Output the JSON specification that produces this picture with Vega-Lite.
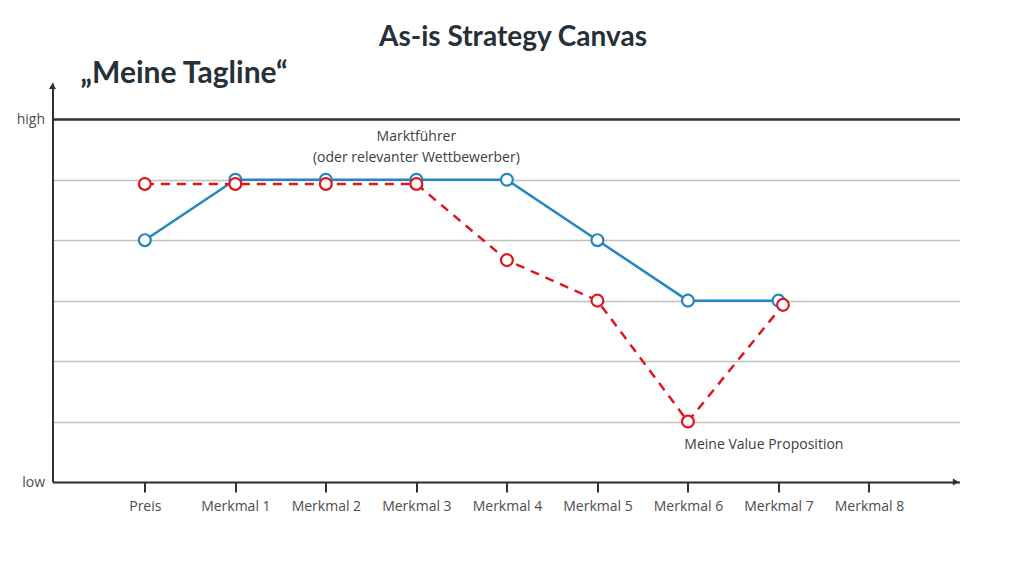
{
  "$schema": "https://vega.github.io/schema/vega-lite/v6.json",
  "autosize": "none",
  "width": 907,
  "height": 399,
  "padding": {"left": 52.5, "top": 83, "right": 64.5, "bottom": 94},
  "background": "white",
  "title": {
    "text": "As-is Strategy Canvas",
    "anchor": "middle",
    "frame": "group",
    "offset": 6,
    "dx": 7,
    "font": "Lato",
    "fontSize": 28,
    "fontWeight": "bold",
    "color": "#263038"
  },
  "config": {
    "view": {"stroke": null},
    "font": "Open Sans"
  },
  "datasets": {
    "werte": [
      {"merkmal": "Preis", "idx": 1, "series": "Marktführer", "wert": 4},
      {"merkmal": "Merkmal 1", "idx": 2, "series": "Marktführer", "wert": 5},
      {"merkmal": "Merkmal 2", "idx": 3, "series": "Marktführer", "wert": 5},
      {"merkmal": "Merkmal 3", "idx": 4, "series": "Marktführer", "wert": 5},
      {"merkmal": "Merkmal 4", "idx": 5, "series": "Marktführer", "wert": 5},
      {"merkmal": "Merkmal 5", "idx": 6, "series": "Marktführer", "wert": 4},
      {"merkmal": "Merkmal 6", "idx": 7, "series": "Marktführer", "wert": 3},
      {"merkmal": "Merkmal 7", "idx": 8, "series": "Marktführer", "wert": 3},
      {"merkmal": "Preis", "idx": 1, "series": "Meine", "wert": 4.93},
      {"merkmal": "Merkmal 1", "idx": 2, "series": "Meine", "wert": 4.93},
      {"merkmal": "Merkmal 2", "idx": 3, "series": "Meine", "wert": 4.93},
      {"merkmal": "Merkmal 3", "idx": 4, "series": "Meine", "wert": 4.93},
      {"merkmal": "Merkmal 4", "idx": 5, "series": "Meine", "wert": 3.67},
      {"merkmal": "Merkmal 5", "idx": 6, "series": "Meine", "wert": 3.0},
      {"merkmal": "Merkmal 6", "idx": 7, "series": "Meine", "wert": 1.0},
      {"merkmal": "Merkmal 7", "idx": 8.05, "series": "Meine", "wert": 2.93}
    ],
    "notizen": [
      {"idx": 4, "wert": 5.64, "text": "Marktführer", "align": "center"},
      {"idx": 4, "wert": 5.29, "text": "(oder relevanter Wettbewerber)", "align": "center"},
      {"idx": 6.96, "wert": 0.55, "text": "Meine Value Proposition", "align": "left"}
    ]
  },
  "resolve": {"scale": {"x": "shared", "y": "shared"}},
  "layer": [
    {
      "data": {"name": "werte"},
      "transform": [{"filter": "datum.series == 'Marktführer'"}],
      "mark": {"type": "line", "color": "#2386c0", "strokeWidth": 2.5},
      "encoding": {
        "x": {
          "field": "idx",
          "type": "quantitative",
          "scale": {"domain": [-0.02, 10], "nice": false, "zero": false},
          "axis": {
            "title": null,
            "values": [1, 2, 3, 4, 5, 6, 7, 8, 9],
            "labelExpr": "['Preis','Merkmal 1','Merkmal 2','Merkmal 3','Merkmal 4','Merkmal 5','Merkmal 6','Merkmal 7','Merkmal 8'][datum.value - 1]",
            "grid": false,
            "domainColor": "#2b3238",
            "domainWidth": 2,
            "tickColor": "#2b3238",
            "tickWidth": 2,
            "tickSize": 10,
            "labelPadding": 7,
            "labelFont": "Open Sans",
            "labelFontSize": 14,
            "labelColor": "#4d4d4d",
            "labelBaseline": "top"
          }
        },
        "y": {
          "field": "wert",
          "type": "quantitative",
          "scale": {"domain": [0, 6.6], "nice": false, "zero": false},
          "axis": {
            "title": "„Meine Tagline“",
            "titleAngle": 0,
            "titleAlign": "left",
            "titleBaseline": "alphabetic",
            "titleX": 27.5,
            "titleY": -1,
            "titleFont": "Lato",
            "titleFontSize": 30,
            "titleFontWeight": "bold",
            "titleColor": "#263038",
            "values": [0, 1, 2, 3, 4, 5, 6],
            "labelExpr": "datum.value == 6 ? 'high' : (datum.value == 0 ? 'low' : '')",
            "ticks": false,
            "labelPadding": 8,
            "labelFont": "Open Sans",
            "labelFontSize": 14,
            "labelColor": "#4d4d4d",
            "domainColor": "#2b3238",
            "domainWidth": 2,
            "grid": true,
            "gridColor": {"condition": {"test": "datum.value == 6", "value": "#2b3238"}, "value": "#c0c0c0"},
            "gridWidth": {"condition": {"test": "datum.value == 6", "value": 2.5}, "value": 1.5}
          }
        }
      }
    },
    {
      "data": {"name": "werte"},
      "transform": [{"filter": "datum.series == 'Marktführer'"}],
      "mark": {"type": "point", "shape": "circle", "filled": true, "fill": "white", "stroke": "#2386c0", "strokeWidth": 2.2, "size": 140, "opacity": 1},
      "encoding": {
        "x": {"field": "idx", "type": "quantitative"},
        "y": {"field": "wert", "type": "quantitative"}
      }
    },
    {
      "data": {"name": "werte"},
      "transform": [{"filter": "datum.series == 'Meine'"}],
      "mark": {"type": "line", "color": "#e0161e", "strokeWidth": 2.5, "strokeDash": [9, 7]},
      "encoding": {
        "x": {"field": "idx", "type": "quantitative"},
        "y": {"field": "wert", "type": "quantitative"}
      }
    },
    {
      "data": {"name": "werte"},
      "transform": [{"filter": "datum.series == 'Meine'"}],
      "mark": {"type": "point", "shape": "circle", "filled": true, "fill": "white", "stroke": "#e0161e", "strokeWidth": 2.2, "size": 140, "opacity": 1},
      "encoding": {
        "x": {"field": "idx", "type": "quantitative"},
        "y": {"field": "wert", "type": "quantitative"}
      }
    },
    {
      "data": {"values": [{"a": 1}]},
      "mark": {"type": "point", "shape": "triangle-up", "filled": true, "color": "#2b3238", "size": 50, "opacity": 1, "clip": false},
      "encoding": {"x": {"datum": -0.02, "type": "quantitative"}, "y": {"datum": 6.55, "type": "quantitative"}}
    },
    {
      "data": {"values": [{"a": 1}]},
      "mark": {"type": "point", "shape": "triangle-right", "filled": true, "color": "#2b3238", "size": 50, "opacity": 1, "clip": false},
      "encoding": {"x": {"datum": 9.96, "type": "quantitative"}, "y": {"datum": 0, "type": "quantitative"}}
    },
    {
      "data": {"name": "notizen"},
      "transform": [{"filter": "datum.align == 'center'"}],
      "mark": {"type": "text", "align": "center", "baseline": "alphabetic", "font": "Open Sans", "fontSize": 14, "color": "#404040"},
      "encoding": {
        "x": {"field": "idx", "type": "quantitative"},
        "y": {"field": "wert", "type": "quantitative"},
        "text": {"field": "text"}
      }
    },
    {
      "data": {"name": "notizen"},
      "transform": [{"filter": "datum.align == 'left'"}],
      "mark": {"type": "text", "align": "left", "baseline": "alphabetic", "font": "Open Sans", "fontSize": 14, "color": "#404040"},
      "encoding": {
        "x": {"field": "idx", "type": "quantitative"},
        "y": {"field": "wert", "type": "quantitative"},
        "text": {"field": "text"}
      }
    }
  ]
}
